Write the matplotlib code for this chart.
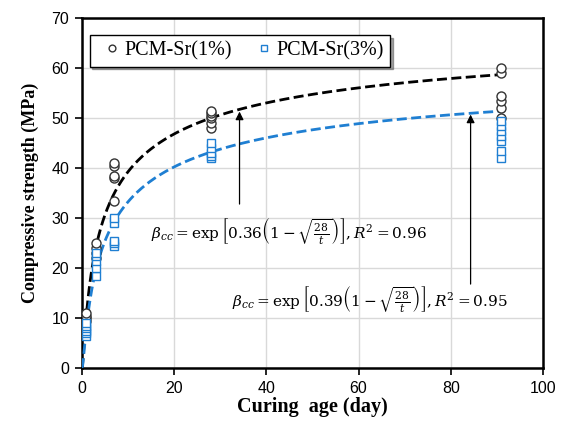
import numpy as np
import matplotlib
matplotlib.use("Agg")
import matplotlib.pyplot as plt

# Measured compressive strength (MPa) at each curing age (days)
ages = [1, 3, 7, 28, 91]
sr1_values = [
    [9.5, 10.0, 10.5, 11.0],
    [22.0, 23.0, 24.0, 25.0],
    [33.5, 38.0, 38.5, 40.5, 41.0],
    [48.0, 49.0, 50.0, 50.5, 51.0, 51.5],
    [50.0, 52.0, 53.5, 54.5, 59.0, 60.0],
]
sr3_values = [
    [6.5, 7.0, 7.5, 8.0, 8.5, 9.0],
    [18.5, 20.0, 21.5, 22.5, 23.0],
    [24.5, 25.0, 25.5, 29.0, 30.0],
    [42.0, 42.5, 43.0, 44.0, 45.0],
    [42.0, 43.5, 45.5, 46.5, 47.5, 48.5, 49.5],
]

# Fitted strength-development model: f(t) = f28 * exp[s (1 - sqrt(28/t))]
s_sr1, f28_sr1, r2_sr1 = 0.36, 50.0, 0.96
s_sr3, f28_sr3, r2_sr3 = 0.39, 43.2, 0.95

labels = ["PCM-Sr(1%)", "PCM-Sr(3%)"]
black = "#000000"
blue = "#1f7fd2"

plt.rcParams["mathtext.fontset"] = "dejavuserif"

fig = plt.figure(figsize=(5.68, 4.30), dpi=100)
ax = fig.add_axes([0.144, 0.144, 0.812, 0.814])


def flatten(days, groups):
    xs, ys = [], []
    for d, g in zip(days, groups):
        xs += [d] * len(g)
        ys += g
    return np.array(xs), np.array(ys)


x1, y1 = flatten(ages, sr1_values)
x3, y3 = flatten(ages, sr3_values)

t = np.linspace(0.02, 91, 600)
fit1 = f28_sr1 * np.exp(s_sr1 * (1 - np.sqrt(28 / t)))
fit3 = f28_sr3 * np.exp(s_sr3 * (1 - np.sqrt(28 / t)))

ax.plot(t, fit1, color=black, lw=2.0, ls=(0, (3.6, 1.6)), zorder=3)
ax.plot(t, fit3, color=blue, lw=2.0, ls=(0, (3.6, 1.6)), zorder=3)

ax.plot(x1, y1, ls="none", marker="o", ms=6.5, mfc="white", mec="#333333",
        mew=1.0, label=labels[0], zorder=4)
ax.plot(x3, y3, ls="none", marker="s", ms=6.0, mfc="white", mec=blue,
        mew=1.0, label=labels[1], zorder=4)

ax.set_xlim(0, 100)
ax.set_ylim(0, 70)
ax.set_xticks(np.arange(0, 101, 20))
ax.set_yticks(np.arange(0, 71, 10))
ax.grid(True, color="#d9d9d9", lw=1.0)
ax.set_axisbelow(True)
for sp in ax.spines.values():
    sp.set_linewidth(1.8)
    sp.set_color("black")
ax.tick_params(axis="both", direction="out", length=5, width=1.2,
               labelsize=11.5, pad=4)
for lab in ax.get_xticklabels() + ax.get_yticklabels():
    lab.set_fontfamily("Liberation Sans")

ax.set_xlabel("Curing  age (day)", fontfamily="Liberation Serif",
              fontweight="bold", fontsize=14.5, labelpad=1)
ax.set_ylabel("Compressive strength (MPa)", fontfamily="Liberation Serif",
              fontweight="bold", fontsize=13, labelpad=9)

leg = ax.legend(loc="upper left", bbox_to_anchor=(0.017, 0.951), ncol=2,
                frameon=True, fancybox=False, shadow=True, borderpad=0.3,
                borderaxespad=0, handletextpad=-0.15, columnspacing=0.75,
                handlelength=1.6, markerscale=0.75,
                prop={"family": "Liberation Serif", "size": 14.5})
leg.get_frame().set_edgecolor("black")
leg.get_frame().set_linewidth(1.0)

eq1 = (r"$\beta_{cc}=\exp\left[0.36\left(1-\sqrt{\frac{28}{t}}\right)\right]"
       r", R^2 = %.2f$" % r2_sr1)
eq3 = (r"$\beta_{cc}=\exp\left[0.39\left(1-\sqrt{\frac{28}{t}}\right)\right]"
       r", R^2 = %.2f$" % r2_sr3)

ax.annotate("", xy=(34.2, 51.3), xytext=(34.2, 32.8),
            arrowprops=dict(arrowstyle="-|>", color="black", lw=0.9,
                            mutation_scale=12, shrinkA=0, shrinkB=0))
ax.annotate("", xy=(84.3, 50.7), xytext=(84.3, 16.8),
            arrowprops=dict(arrowstyle="-|>", color="black", lw=0.9,
                            mutation_scale=12, shrinkA=0, shrinkB=0))

ax.text(15.0, 27.3, eq1, fontsize=11, va="center", ha="left")
ax.text(32.5, 13.7, eq3, fontsize=11, va="center", ha="left")

fig.savefig("out.png", dpi=100)
